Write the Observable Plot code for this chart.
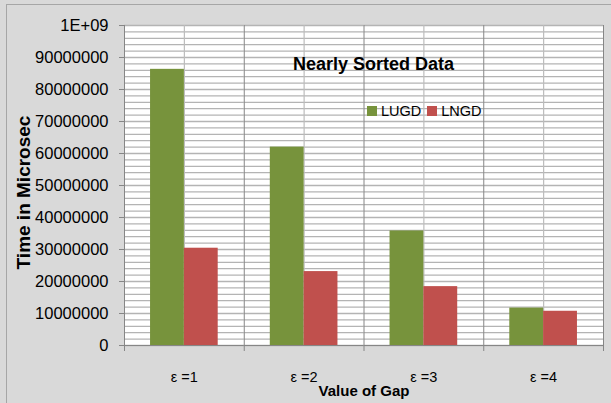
<!DOCTYPE html>
<html><head><meta charset="utf-8">
<script src="https://cdn.jsdelivr.net/npm/d3@7"></script>
<script src="https://cdn.jsdelivr.net/npm/@observablehq/plot@0.6"></script>
<style>
body{margin:0;background:#d9d9d9;}
#wrap{position:relative;width:611px;height:403px;overflow:hidden;background:#d9d9d9;font-family:"Liberation Sans",Arial,sans-serif;}
#border{position:absolute;left:6px;top:4px;width:700px;height:500px;border-left:1.5px solid #a6a6a6;border-top:1.5px solid #a6a6a6;box-sizing:border-box;}
#chart{position:absolute;left:0;top:0;}
#legend{position:absolute;left:367px;top:104px;display:flex;align-items:center;font-size:14.5px;line-height:1;color:#000;}
#legend .item{display:flex;align-items:center;margin-right:6px;}
#legend .sw{width:10px;height:10px;margin-right:4px;}
</style></head>
<body>
<div id="wrap"><div id="border"></div><div id="chart"></div><div id="legend"></div></div>
<script>
const categories = ["ε =1", "ε =2", "ε =3", "ε =4"];
const series = ["LUGD", "LNGD"];
const lugd = [86300000, 62000000, 35800000, 11700000];
const lngd = [30400000, 23100000, 18400000, 10700000];
const colors = ["#77933C", "#C0504D"];
const yTicks = [0, 10000000, 20000000, 30000000, 40000000, 50000000, 60000000, 70000000, 80000000, 90000000, 100000000];
const yTickLabels = ["0", "10000000", "20000000", "30000000", "40000000", "50000000", "60000000", "70000000", "80000000", "90000000", "1E+09"];
const gridStep = 2000000;
const titleText = "Nearly Sorted Data";
const yTitle = "Time in Microsec";
const xTitle = "Value of Gap";

const values = {LUGD: lugd, LNGD: lngd};
const rows = categories.flatMap((c, i) => series.map(s => ({cat: c, series: s, value: values[s][i]})));
const gridTicks = d3.range(0, yTicks[yTicks.length - 1] + 1, gridStep);

const W = 611, H = 403, mL = 124, mR = 8, mT = 25, mB = 58;
const po = 0.77;
const fw = (W - mL - mR) / categories.length;
const bw = fw / (series.length + 2 * po);
const dark = "#868686";

const chart = Plot.plot({
  width: W, height: H,
  marginLeft: mL, marginRight: mR, marginTop: mT, marginBottom: mB,
  style: {background: "transparent", fontFamily: "'Liberation Sans',Arial,sans-serif", color: "#000"},
  fx: {domain: categories, padding: 0, round: false, label: null},
  x: {domain: series, paddingInner: 0, paddingOuter: po, round: false, axis: null},
  y: {domain: [0, yTicks[yTicks.length - 1]], axis: null},
  color: {domain: series, range: colors},
  marks: [
    Plot.barY(categories, {fx: d => d, x: () => "LUGD", y: () => yTicks[yTicks.length - 1], fill: "white", insetLeft: -po * bw, insetRight: -bw - po * bw - 1}),
    Plot.ruleY(gridTicks, {stroke: "#b4b4b4", strokeWidth: 1.3}),
    Plot.ruleX(categories, {fx: d => d, x: () => "LNGD", dx: -bw / 2, stroke: "#bdbdbd", strokeWidth: 1.2}),
    Plot.barY(rows, {fx: "cat", x: "series", y: "value", fill: "series"}),
    Plot.ruleX(categories, {fx: d => d, x: () => "LUGD", dx: -(po + 0.5) * bw, insetBottom: -6, stroke: dark}),
    Plot.ruleX([categories[categories.length - 1]], {fx: d => d, x: () => "LNGD", dx: (po + 0.5) * bw, insetBottom: -6, stroke: dark}),
    Plot.ruleY([0], {stroke: dark}),
    Plot.axisY({ticks: yTicks, tickFormat: d => yTickLabels[yTicks.indexOf(d)], tickSize: 5, tickPadding: 11, fontSize: 16.5, stroke: dark, label: null}),
    Plot.axisFx({anchor: "bottom", tickSize: 0, tickPadding: 26, fontSize: 14.5, label: null})
  ]
});
document.getElementById("chart").append(chart);

const svg = d3.select(chart);
svg.append("text").attr("x", 373.5).attr("y", 70).attr("text-anchor", "middle")
  .attr("font-family", "'Liberation Sans',Arial,sans-serif").attr("font-weight", "bold").attr("font-size", 18).attr("fill", "#000").text(titleText);
svg.append("text").attr("transform", "translate(30,192.5) rotate(-90)").attr("text-anchor", "middle")
  .attr("font-family", "'Liberation Sans',Arial,sans-serif").attr("font-weight", "bold").attr("font-size", 19).attr("fill", "#000").text(yTitle);
svg.append("text").attr("x", 364).attr("y", 396).attr("text-anchor", "middle")
  .attr("font-family", "'Liberation Sans',Arial,sans-serif").attr("font-weight", "bold").attr("font-size", 15).attr("fill", "#000").text(xTitle);

const legend = d3.select("#legend");
series.forEach((s, i) => {
  const it = legend.append("div").attr("class", "item");
  it.append("div").attr("class", "sw").style("background", colors[i]);
  it.append("span").text(s);
});
</script>
</body></html>
